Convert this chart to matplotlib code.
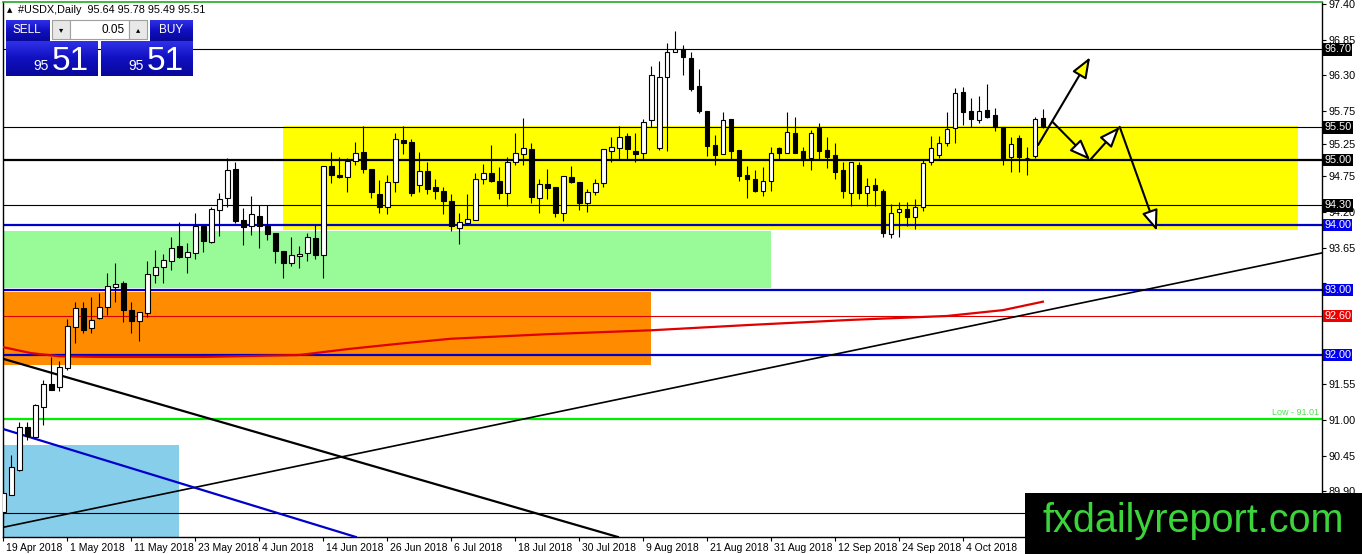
import numpy as np
import matplotlib
matplotlib.use("Agg")
import matplotlib.pyplot as plt
from matplotlib.patches import Rectangle
from matplotlib.colors import LinearSegmentedColormap
import matplotlib.transforms as mtransforms

plt.rcParams['font.family'] = ['Liberation Sans', 'DejaVu Sans']

# daily candles, 19 Apr 2018 -> 18 Oct 2018
opens = [89.58, 89.85, 90.23, 90.89, 90.74, 91.20, 91.55, 91.50, 91.80, 92.43,
         92.72, 92.42, 92.57, 92.74, 93.05, 93.10, 92.69, 92.52, 92.65, 93.23,
         93.35, 93.45, 93.68, 93.51, 93.57, 93.98, 93.74, 94.23, 94.42, 94.86,
         94.08, 93.98, 94.14, 93.98, 93.88, 93.60, 93.42, 93.52, 93.57, 93.80,
         93.54, 94.90, 94.77, 94.74, 94.98, 95.12, 94.86, 94.48, 94.28, 94.66,
         95.30, 95.28, 94.62, 94.83, 94.58, 94.52, 94.37, 93.95, 94.03, 94.08,
         94.71, 94.80, 94.68, 94.49, 94.97, 95.09, 95.17, 94.42, 94.63, 94.58,
         94.18, 94.74, 94.66, 94.34, 94.51, 94.65, 95.14, 95.18, 95.37, 95.14,
         95.11, 95.62, 95.18, 96.28, 96.66, 96.71, 96.57, 96.14, 95.75, 95.23,
         95.09, 95.63, 95.15, 94.77, 94.71, 94.52, 94.68, 95.18, 95.11, 95.42,
         95.14, 95.03, 95.49, 95.15, 95.08, 94.85, 94.49, 94.92, 94.49, 94.62,
         94.52, 93.86, 94.20, 94.25, 94.12, 94.28, 94.97, 95.08, 95.26, 95.49,
         96.05, 95.75, 95.62, 95.77, 95.69, 95.51, 95.05, 95.34, 95.03, 95.06,
         95.64]
highs = [89.92, 90.46, 90.97, 90.97, 91.25, 91.62, 91.97, 91.90, 92.55, 92.82,
         92.82, 92.89, 92.95, 93.26, 93.41, 93.14, 92.82, 92.66, 93.45, 93.62,
         93.55, 93.82, 94.05, 93.72, 94.18, 93.98, 94.28, 94.49, 95.03, 94.97,
         94.26, 94.45, 94.31, 94.31, 93.88, 93.60, 93.82, 93.68, 93.88, 94.00,
         94.90, 95.12, 95.05, 95.03, 95.28, 95.52, 94.86, 94.69, 94.77, 95.42,
         95.52, 95.32, 95.12, 94.97, 94.71, 94.58, 94.48, 94.18, 94.48, 94.80,
         94.94, 95.23, 94.89, 95.05, 95.42, 95.65, 95.26, 94.71, 94.86, 94.58,
         94.75, 94.91, 94.66, 94.55, 94.71, 95.17, 95.35, 95.52, 95.42, 95.42,
         95.63, 96.45, 96.52, 96.80, 96.98, 96.77, 96.66, 96.40, 95.75, 95.38,
         95.74, 95.63, 95.15, 94.91, 94.85, 94.89, 95.20, 95.20, 95.74, 95.66,
         95.20, 95.46, 95.57, 95.35, 95.26, 94.97, 94.97, 94.97, 94.72, 94.72,
         94.55, 94.32, 94.35, 94.35, 94.40, 95.00, 95.37, 95.37, 95.74, 96.11,
         96.12, 95.95, 95.98, 96.17, 95.80, 95.51, 95.36, 95.38, 95.20, 95.66,
         95.78]
lows = [89.45, 89.84, 90.22, 90.69, 90.72, 90.92, 91.46, 91.45, 91.77, 92.18,
        92.34, 92.34, 92.55, 92.62, 92.82, 92.51, 92.34, 92.22, 92.58, 93.11,
        93.11, 93.30, 93.49, 93.26, 93.48, 93.58, 93.72, 93.83, 94.28, 94.03,
        93.69, 93.85, 93.65, 93.77, 93.42, 93.18, 93.37, 93.34, 93.45, 93.48,
        93.18, 94.65, 94.72, 94.50, 94.92, 94.80, 94.42, 94.18, 94.17, 94.51,
        95.09, 94.45, 94.51, 94.48, 94.40, 94.17, 93.91, 93.71, 94.00, 94.08,
        94.63, 94.66, 94.40, 94.29, 94.92, 94.92, 94.34, 94.18, 94.40, 94.12,
        94.06, 94.64, 94.23, 94.20, 94.46, 94.58, 94.97, 95.00, 95.00, 94.97,
        95.00, 95.51, 95.15, 95.14, 96.66, 96.31, 96.06, 95.72, 95.06, 94.92,
        95.09, 95.00, 94.68, 94.42, 94.50, 94.45, 94.52, 95.00, 95.11, 95.11,
        94.91, 94.85, 95.00, 94.88, 94.71, 94.42, 94.29, 94.40, 94.29, 94.29,
        93.82, 93.80, 93.82, 93.98, 93.94, 94.22, 94.92, 95.03, 95.22, 95.26,
        95.54, 95.51, 95.57, 95.65, 95.45, 94.92, 94.82, 94.82, 94.77, 95.03,
        95.49]
closes = [89.88, 90.28, 90.89, 90.75, 91.23, 91.55, 91.46, 91.82, 92.45, 92.72,
          92.38, 92.54, 92.74, 93.06, 93.09, 92.69, 92.52, 92.66, 93.25, 93.35,
          93.46, 93.65, 93.50, 93.58, 93.98, 93.75, 94.25, 94.40, 94.85, 94.06,
          93.97, 94.17, 93.98, 93.86, 93.60, 93.42, 93.54, 93.55, 93.82, 93.54,
          94.90, 94.77, 94.74, 94.98, 95.10, 94.86, 94.51, 94.28, 94.66, 95.32,
          95.26, 94.49, 94.83, 94.55, 94.52, 94.37, 93.98, 94.05, 94.09, 94.71,
          94.80, 94.68, 94.49, 94.97, 95.11, 95.18, 94.43, 94.63, 94.57, 94.18,
          94.75, 94.66, 94.34, 94.51, 94.65, 95.17, 95.20, 95.35, 95.17, 95.09,
          95.58, 96.31, 96.28, 96.66, 96.71, 96.58, 96.09, 95.75, 95.22, 95.08,
          95.62, 95.14, 94.75, 94.71, 94.52, 94.68, 95.11, 95.11, 95.43, 95.11,
          95.00, 95.42, 95.14, 95.05, 94.82, 94.52, 94.97, 94.49, 94.60, 94.54,
          93.88, 94.18, 94.25, 94.12, 94.28, 94.95, 95.18, 95.26, 95.48, 96.03,
          95.74, 95.63, 95.75, 95.66, 95.51, 95.02, 95.25, 95.05, 95.03, 95.63,
          95.51]

date_labels = ["19 Apr 2018", "1 May 2018", "11 May 2018", "23 May 2018", "4 Jun 2018",
               "14 Jun 2018", "26 Jun 2018", "6 Jul 2018", "18 Jul 2018", "30 Jul 2018",
               "9 Aug 2018", "21 Aug 2018", "31 Aug 2018", "12 Sep 2018", "24 Sep 2018",
               "4 Oct 2018"]
price_ticks = [97.40, 96.85, 96.30, 95.75, 95.25, 94.75, 94.20, 93.65, 93.10,
               92.55, 92.00, 91.55, 91.00, 90.45, 89.90]
# tick labels hidden under the coloured price tags
hidden_ticks = [93.10, 92.55, 92.00]

# moving average (red) sampled from the chart: bar index, price
ma_bars = [0, 3.4, 7, 12, 25, 37, 43, 50, 56, 68, 81, 93, 106, 118, 125, 130]
ma_vals = [92.12, 92.03, 91.98, 91.97, 91.97, 92.0, 92.09, 92.18, 92.25, 92.32,
           92.38, 92.46, 92.54, 92.60, 92.69, 92.82]

# zones: (bar from, bar to, price low, price high, colour)
zones = [(35, 161.9, 93.92, 95.52, "#ffff00"),
         (-1, 96, 93.03, 93.91, "#98fb98"),
         (-1, 81, 91.85, 92.97, "#ff8c00"),
         (-1, 22, 89.0, 90.62, "#87ceeb")]

# horizontal levels: price, colour, width, tag colour (None = no tag)
levels = [(96.70, "black", 0.8, "black"),
          (95.50, "black", 0.8, "black"),
          (95.00, "black", 1.6, "black"),
          (94.30, "black", 0.8, "black"),
          (94.00, "#0000cc", 1.6, "#0000ee"),
          (93.00, "#0000cc", 1.6, "#0000ee"),
          (92.60, "#dd0000", 0.8, "#ee0000"),
          (92.00, "#0000cc", 1.6, "#0000ee"),
          (91.01, "#00ee00", 1.6, None),
          (89.57, "black", 0.8, None)]

# trend lines: two anchor points (bar, price)
trends = [((0, 89.35), (164.9, 93.57), "black", 1.2),
          ((0, 91.94), (74.6, 89.28), "black", 1.6),
          ((0, 90.86), (42.75, 89.25), "#0000cc", 1.6)]

# projection arrows: start, end, head colour
arrows = [((129.4, 95.23), (135.9, 96.58), "yellow"),
          ((131.25, 95.58), (135.9, 95.00), "white"),
          ((135.9, 95.00), (139.6, 95.51), "white"),
          ((139.6, 95.51), (144.25, 93.91), "white")]

W, H = 1362, 554
fig = plt.figure(figsize=(W / 100, H / 100), dpi=100)
ax = fig.add_axes([3 / W, 17 / H, 1319 / W, 535 / H])
ax.set_xlim(-0.05, 164.9)
ax.set_ylim(89.2, 97.43)

for x0, x1, lo, hi, c in zones:
    ax.add_patch(Rectangle((x0, lo), x1 - x0, hi - lo, facecolor=c, edgecolor="none", zorder=1))

for p, c, lw, tag in levels:
    ax.axhline(p, color=c, lw=lw, zorder=2)

ax.plot(ma_bars, ma_vals, color="#e00000", lw=1.6, zorder=3)

for p1, p2, c, lw in trends:
    ax.axline(p1, p2, color=c, lw=lw, zorder=3)

# candles
x = np.arange(len(opens))
o = np.array(opens); c_ = np.array(closes)
ax.vlines(x, lows, highs, color="black", lw=0.8, zorder=4)
up = c_ >= o
body_lo = np.minimum(o, c_)
body_h = np.abs(c_ - o)
ax.bar(x[up], body_h[up], bottom=body_lo[up], width=0.6, facecolor="white",
       edgecolor="black", linewidth=0.8, zorder=5)
ax.bar(x[~up], body_h[~up], bottom=body_lo[~up], width=0.6, facecolor="black",
       edgecolor="black", linewidth=0.8, zorder=5)

for (sx, sy), (ex, ey), hc in arrows:
    ax.annotate("", xy=(ex, ey), xytext=(sx, sy),
                arrowprops=dict(arrowstyle="-|>,head_length=0.9,head_width=0.35",
                                fc=hc, ec="black", lw=1.5, shrinkA=0, shrinkB=0,
                                mutation_scale=14), zorder=6)

# axes styling
for s in ["left", "right", "bottom"]:
    ax.spines[s].set_color("black")
    ax.spines[s].set_linewidth(1)
ax.spines["top"].set_color("#22aa22")
ax.spines["top"].set_linewidth(1.2)
ax.yaxis.tick_right()
ax.set_yticks(price_ticks)
ax.set_yticklabels(["" if v in hidden_ticks else f"{v:.2f}" for v in price_ticks])
ax.tick_params(axis="y", length=3, width=0.8, pad=2, labelsize=7.8)
ax.set_xticks(np.arange(len(date_labels)) * 8)
ax.set_xticklabels(date_labels)
ax.tick_params(axis="x", length=3, width=0.8, pad=1, labelsize=7.5)
for lab in ax.get_xticklabels():
    lab.set_ha("left")
    lab.set_transform(lab.get_transform() + mtransforms.ScaledTranslation(2 / 72, 0, fig.dpi_scale_trans))

# price tags on the right axis
for p, c, lw, tag in levels:
    if tag is None:
        continue
    ax.annotate(f"{p:.2f}", xy=(1, p), xycoords=("axes fraction", "data"),
                xytext=(1.5, 0), textcoords="offset points", ha="left", va="center",
                color="white", fontsize=7.8, annotation_clip=False, zorder=8,
                bbox=dict(boxstyle="square,pad=0.12", fc=tag, ec="none"))
ax.annotate("Low - 91.01", xy=(0.998, 91.01), xycoords=("axes fraction", "data"),
            xytext=(0, 1.5), textcoords="offset points", ha="right", va="bottom",
            color="#55dd55", fontsize=6.5)

# overlay in pixel coordinates: trading panel + watermark
ov = fig.add_axes([0, 0, 1, 1], zorder=10)
ov.set_xlim(0, W)
ov.set_ylim(H, 0)
ov.axis("off")
ov.patch.set_alpha(0)

blue_cm = LinearSegmentedColormap.from_list("b", ["#3030e8", "#1010c0", "#08089a"])
grad = np.linspace(0, 1, 64).reshape(-1, 1)


def blue_box(x0, y0, w, h):
    ov.imshow(grad, cmap=blue_cm, extent=(x0, x0 + w, y0 + h, y0), aspect="auto", zorder=11)


ov.text(7, 10, "\u25b2", fontsize=5, va="center", ha="left", family="DejaVu Sans")
ov.text(18, 10, "#USDX,Daily  95.64 95.78 95.49 95.51", fontsize=7.8, va="center", ha="left")

blue_box(6, 20, 44, 21)
ov.text(27, 30, "SELL", color="white", fontsize=8.5, ha="center", va="center", zorder=12)
blue_box(150, 20, 43, 21)
ov.text(171, 30, "BUY", color="white", fontsize=8.5, ha="center", va="center", zorder=12)
ov.add_patch(Rectangle((52, 20), 18, 19, fc="#e8e8e8", ec="#a0a0a0", lw=0.8, zorder=11))
ov.add_patch(Rectangle((70, 20), 59, 19, fc="white", ec="#a0a0a0", lw=0.8, zorder=11))
ov.add_patch(Rectangle((129, 20), 18, 19, fc="#e8e8e8", ec="#a0a0a0", lw=0.8, zorder=11))
ov.text(61, 30, "\u25be", fontsize=6, ha="center", va="center", zorder=12, family="DejaVu Sans")
ov.text(138, 30, "\u25b4", fontsize=6, ha="center", va="center", zorder=12, family="DejaVu Sans")
ov.text(125, 30, "0.05", fontsize=8.5, ha="right", va="center", zorder=12)

blue_box(6, 41, 92, 35)
blue_box(101, 41, 92, 35)
ov.text(49, 70, "95", color="white", fontsize=10, ha="right", va="baseline", zorder=12)
ov.text(52, 70, "51", color="white", fontsize=24, ha="left", va="baseline", zorder=12)
ov.text(144, 70, "95", color="white", fontsize=10, ha="right", va="baseline", zorder=12)
ov.text(147, 70, "51", color="white", fontsize=24, ha="left", va="baseline", zorder=12)

ov.add_patch(Rectangle((1025, 493), W - 1025, H - 493, fc="black", ec="none", zorder=11))
ov.text(1193, 521, "fxdailyreport.com", color="#3bd43b", fontsize=28.5,
        ha="center", va="center", zorder=12)

fig.savefig("out.png", dpi=100)
